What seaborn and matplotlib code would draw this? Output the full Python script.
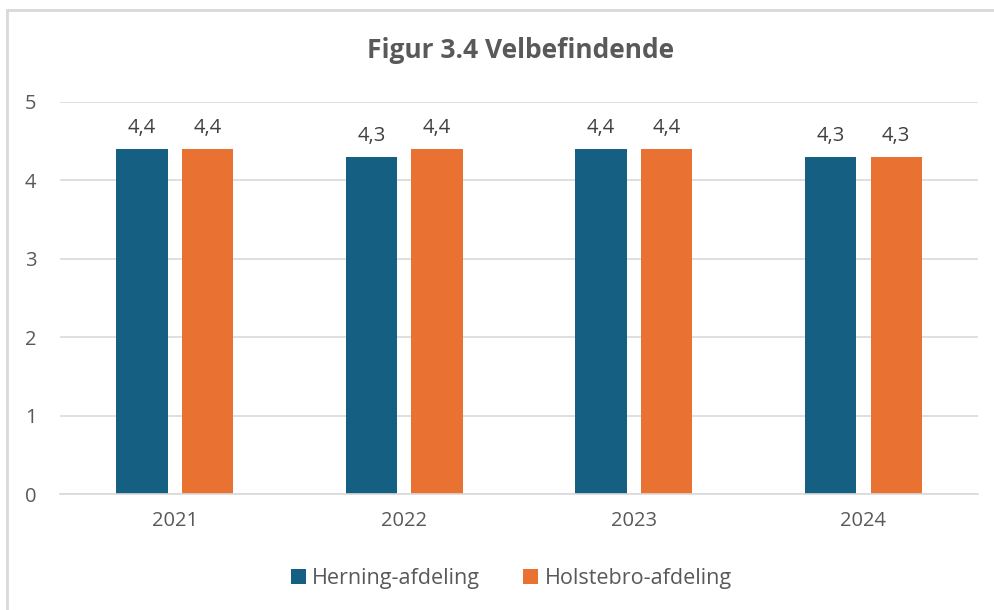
import pandas as pd
import matplotlib.pyplot as plt
import seaborn as sns
from matplotlib.patches import Rectangle

# ----- DATA -----
years = ["2021", "2022", "2023", "2024"]
herning = [4.4, 4.3, 4.4, 4.3]
holstebro = [4.4, 4.4, 4.4, 4.3]
series_names = ["Herning-afdeling", "Holstebro-afdeling"]
y_ticks = [0, 1, 2, 3, 4, 5]

df = pd.DataFrame({
    "year": years * 2,
    "value": herning + holstebro,
    "series": [series_names[0]] * len(years) + [series_names[1]] * len(years),
})

text_color = "#595959"
grid_color = "#d9d9d9"
palette = {series_names[0]: "#156082", series_names[1]: "#E97132"}

sns.set_style("white")
plt.rcParams["font.family"] = ["Open Sans", "DejaVu Sans"]

fig = plt.figure(figsize=(9.95, 6.1), dpi=100)
ax = fig.add_axes([0.0603, 0.190, 0.9227, 0.643])

sns.barplot(data=df, x="year", y="value", hue="series", palette=palette,
            width=0.571, gap=0.22, ax=ax, saturation=1, linewidth=0)

# data labels with comma decimal
for cont in ax.containers:
    labels = [f"{b.get_height():.1f}".replace(".", ",") for b in cont]
    ax.bar_label(cont, labels=labels, padding=8, fontsize=14.5, color="#404040")

ax.set_xlim(-0.5, 3.5)
ax.set_ylim(0, 5)
ax.set_yticks(y_ticks)
ax.yaxis.grid(True, color=grid_color, linewidth=1.2)
ax.set_axisbelow(True)
for s in ["top", "right", "left"]:
    ax.spines[s].set_visible(False)
ax.spines["bottom"].set_color(grid_color)
ax.spines["bottom"].set_linewidth(1.2)
ax.tick_params(axis="both", length=0, labelsize=14.5, labelcolor=text_color)
ax.tick_params(axis="y", pad=17)
ax.tick_params(axis="x", pad=12)
ax.set_xlabel("")
ax.set_ylabel("")

fig.suptitle("Figur 3.4 Velbefindende", x=0.523, y=0.94, fontsize=19,
             fontweight="bold", color=text_color)

ax.legend_.remove()
handles, labels = ax.get_legend_handles_labels()
fig.legend(handles, labels, loc="center", bbox_to_anchor=(0.514, 0.052), ncol=2,
           frameon=False, fontsize=15.5, labelcolor=text_color, handlelength=0.7,
           handleheight=0.7, handletextpad=0.3, columnspacing=2.0)

# light chart-area border
fig.patches.append(Rectangle((0.007, -0.05), 1.05, 1.034, transform=fig.transFigure,
                             fill=False, edgecolor=grid_color, linewidth=2))

fig.savefig("out.png", dpi=100)
